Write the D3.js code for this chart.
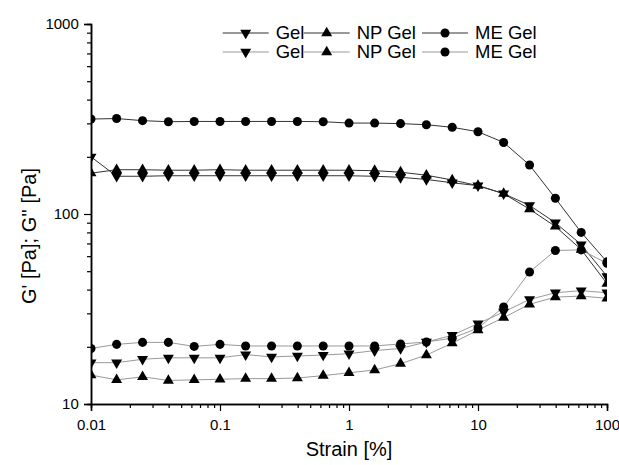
<!DOCTYPE html>
<html>
<head>
<meta charset="utf-8">
<script src="https://cdn.jsdelivr.net/npm/d3@7"></script>
<style>
  body { margin: 0; background: #fff; }
  svg { font-family: "Liberation Sans", Arial, sans-serif; }
</style>
</head>
<body>
<div id="chart"></div>
<script>
// strain points, 5 per decade
const strain = [0.01, 0.0158, 0.0251, 0.0398, 0.0631, 0.1, 0.158, 0.251, 0.398, 0.631,
    1, 1.58, 2.51, 3.98, 6.31, 10, 15.8, 25.1, 39.8, 63.1, 100];

// G' (storage modulus)
const gelG1 = [200, 158, 158, 159, 159, 159, 159, 159, 159, 159, 159, 158, 156, 152, 146, 141, 128, 111, 90, 69, 47];
const npG1 = [164, 171, 171, 170, 170, 171, 170, 170, 170, 170, 170, 169, 166, 160, 151, 141, 128, 106, 86, 65, 43];
const meG1 = [316, 318, 310, 306, 307, 307, 307, 307, 307, 306, 301, 301, 299, 295, 286, 271, 238, 181, 121, 80, 56];

// G'' (loss modulus)
const gelG2 = [16.5, 16.5, 17.2, 17.5, 17.5, 17.5, 18.2, 17.7, 17.9, 18.1, 18.4, 19.1, 19.6, 21.2, 23.0, 26.5, 30.5, 35.5, 38.5, 39.5, 38.5];
const npG2 = [14.2, 13.4, 13.9, 13.3, 13.4, 13.5, 13.6, 13.6, 13.7, 14.1, 14.6, 15.1, 16.3, 18.1, 20.9, 24.5, 28.5, 33.5, 36.5, 37, 36];
const meG2 = [19.6, 20.6, 21.1, 21.1, 20.1, 20.6, 20.2, 20.2, 20.2, 20.2, 20.2, 20.2, 20.7, 21.2, 22.2, 25.1, 32.4, 49.5, 64.3, 64.7, 55];

const xTicks = [0.01, 0.1, 1, 10, 100];
const yTicks = [10, 100, 1000];

const series = [
    {name: "Gel", values: gelG1, symbol: "down", row: 0},
    {name: "NP Gel", values: npG1, symbol: "up", row: 0},
    {name: "ME Gel", values: meG1, symbol: "circle", row: 0},
    {name: "Gel", values: gelG2, symbol: "down", row: 1},
    {name: "NP Gel", values: npG2, symbol: "up", row: 1},
    {name: "ME Gel", values: meG2, symbol: "circle", row: 1}
];

const W = 619, H = 465;
const margin = {top: 24, right: 12, bottom: 61, left: 91};
const width = W - margin.left - margin.right;
const height = H - margin.top - margin.bottom;

const lineColor = ["#333", "#999"];

const svg = d3.select("#chart").append("svg")
    .attr("width", W)
    .attr("height", H);

const g = svg.append("g")
    .attr("transform", "translate(" + margin.left + "," + margin.top + ")");

const x = d3.scaleLog().domain([0.01, 100]).range([0, width]);
const y = d3.scaleLog().domain([10, 1000]).range([height, 0]);

// clip to plot area, the edge markers get cut in half
g.append("clipPath").attr("id", "plot-clip")
    .append("rect").attr("width", width).attr("height", height);

function symbolPath(kind) {
    if (kind == "circle") return d3.symbol(d3.symbolCircle, 64)();
    return d3.symbol(d3.symbolTriangle, 52)();
}
function symbolTransform(kind, px, py) {
    return "translate(" + px + "," + py + ")" + (kind == "down" ? " rotate(180)" : "");
}

const plot = g.append("g").attr("clip-path", "url(#plot-clip)");

const line = d3.line()
    .x((d, i) => x(strain[i]))
    .y(d => y(d));

series.forEach(s => {
    plot.append("path")
        .datum(s.values)
        .attr("fill", "none")
        .attr("stroke", lineColor[s.row])
        .attr("stroke-width", 1)
        .attr("d", line);
});

series.forEach(s => {
    plot.selectAll(null)
        .data(s.values)
        .enter()
        .append("path")
        .attr("d", symbolPath(s.symbol))
        .attr("transform", (d, i) => symbolTransform(s.symbol, x(strain[i]), y(d)))
        .attr("fill", "#000");
});

// axes
const fmt = d => d < 1 ? String(d) : d3.format("d")(d);
const xMinor = [];
const yMinor = [];
[0.01, 0.1, 1, 10].forEach(b => { for (let k = 2; k < 10; k++) xMinor.push(b * k); });
[10, 100].forEach(b => { for (let k = 2; k < 10; k++) yMinor.push(b * k); });

const xAxis = g.append("g").attr("transform", "translate(0," + height + ")");
xAxis.call(d3.axisBottom(x).tickValues(xMinor).tickSize(4).tickFormat(""));
xAxis.append("g").call(d3.axisBottom(x).tickValues(xTicks).tickSize(7).tickFormat(fmt));

const yAxis = g.append("g");
yAxis.call(d3.axisLeft(y).tickValues(yMinor).tickSize(4).tickFormat(""));
yAxis.append("g").call(d3.axisLeft(y).tickValues(yTicks).tickSize(7).tickFormat(fmt));

g.selectAll(".domain").attr("stroke", "#000").attr("stroke-width", 1.5);
g.selectAll(".tick line").attr("stroke", "#000").attr("stroke-width", 1.2);
g.selectAll(".tick text")
    .attr("fill", "#000")
    .style("font-size", "15px")
    .style("font-family", "'Liberation Sans', Arial, sans-serif");
xAxis.selectAll(".tick text").attr("dy", "1.05em");
yAxis.selectAll(".tick text").attr("dx", "-0.15em");

// axis titles
svg.append("text")
    .attr("x", margin.left + width / 2)
    .attr("y", 456)
    .attr("text-anchor", "middle")
    .style("font-size", "20px")
    .text("Strain [%]");

svg.append("text")
    .attr("transform", "translate(36,236) rotate(-90)")
    .attr("text-anchor", "middle")
    .style("font-size", "20px")
    .text("G' [Pa]; G'' [Pa]");

// legend: row 0 = G', row 1 = G''
const legendCols = [245.7, 326.7, 445];
const legendRows = [33, 52];
series.forEach((s, i) => {
    const cx = legendCols[i % 3];
    const cy = legendRows[s.row];
    const lg = svg.append("g");
    lg.append("line")
        .attr("x1", cx - 23).attr("x2", cx + 23)
        .attr("y1", cy).attr("y2", cy)
        .attr("stroke", lineColor[s.row])
        .attr("stroke-width", 1);
    lg.append("path")
        .attr("d", symbolPath(s.symbol))
        .attr("transform", symbolTransform(s.symbol, cx, cy))
        .attr("fill", "#000");
    lg.append("text")
        .attr("x", cx + 30)
        .attr("y", cy)
        .attr("dy", "0.35em")
        .style("font-size", "18.5px")
        .text(s.name);
});
</script>
</body>
</html>
